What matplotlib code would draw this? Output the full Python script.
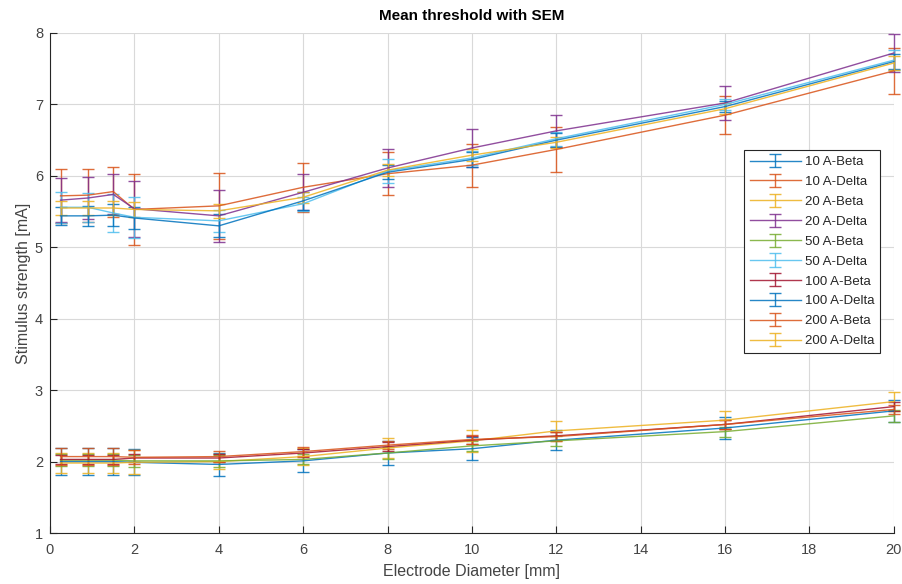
import numpy as np
import matplotlib
matplotlib.use("Agg")
import matplotlib.pyplot as plt

plt.rcParams['font.family'] = ['Liberation Sans', 'DejaVu Sans']

# Electrode diameters [mm]
diameter = [0.25, 0.9, 1.5, 2, 4, 6, 8, 10, 12, 16, 20]

# Mean thresholds [mA] and SEM
beta_10 = [2.00, 2.00, 2.00, 1.99, 1.96, 2.01, 2.12, 2.18, 2.30, 2.47, 2.71]
beta_10_sem = [0.19, 0.19, 0.19, 0.18, 0.16, 0.16, 0.17, 0.16, 0.14, 0.15, 0.15]
delta_10 = [5.72, 5.73, 5.78, 5.53, 5.58, 5.84, 6.03, 6.15, 6.37, 6.85, 7.47]
delta_10_sem = [0.38, 0.37, 0.35, 0.50, 0.46, 0.34, 0.30, 0.30, 0.31, 0.27, 0.32]
beta_20 = [1.98, 1.98, 1.98, 1.99, 2.00, 2.07, 2.19, 2.29, 2.43, 2.58, 2.84]
beta_20_sem = [0.14, 0.14, 0.14, 0.17, 0.10, 0.12, 0.14, 0.15, 0.14, 0.13, 0.13]
delta_20 = [5.66, 5.69, 5.74, 5.54, 5.44, 5.77, 6.11, 6.39, 6.63, 7.02, 7.72]
delta_20_sem = [0.31, 0.30, 0.28, 0.39, 0.36, 0.25, 0.26, 0.26, 0.22, 0.24, 0.26]
beta_50 = [2.02, 2.02, 2.02, 2.01, 2.01, 2.03, 2.12, 2.22, 2.29, 2.42, 2.64]
beta_50_sem = [0.08, 0.08, 0.08, 0.08, 0.08, 0.07, 0.08, 0.07, 0.07, 0.07, 0.08]
delta_50 = [5.56, 5.56, 5.48, 5.42, 5.37, 5.61, 6.07, 6.25, 6.52, 7.00, 7.62]
delta_50_sem = [0.22, 0.20, 0.27, 0.29, 0.15, 0.10, 0.17, 0.10, 0.10, 0.08, 0.14]
beta_100 = [2.03, 2.03, 2.03, 2.05, 2.05, 2.12, 2.21, 2.30, 2.36, 2.52, 2.77]
beta_100_sem = [0.06, 0.06, 0.06, 0.06, 0.06, 0.06, 0.06, 0.06, 0.06, 0.06, 0.06]
delta_100 = [5.44, 5.44, 5.45, 5.41, 5.30, 5.65, 6.05, 6.23, 6.50, 6.97, 7.60]
delta_100_sem = [0.13, 0.14, 0.15, 0.15, 0.16, 0.13, 0.10, 0.10, 0.10, 0.08, 0.10]
beta_200 = [2.07, 2.07, 2.07, 2.06, 2.07, 2.14, 2.23, 2.31, 2.35, 2.52, 2.73]
beta_200_sem = [0.12, 0.12, 0.12, 0.10, 0.08, 0.06, 0.06, 0.06, 0.06, 0.06, 0.06]
delta_200 = [5.55, 5.55, 5.55, 5.53, 5.51, 5.70, 6.08, 6.29, 6.47, 6.94, 7.58]
delta_200_sem = [0.10, 0.10, 0.10, 0.10, 0.10, 0.08, 0.08, 0.08, 0.08, 0.08, 0.10]

labels = ['10 A-Beta', '10 A-Delta', '20 A-Beta', '20 A-Delta', '50 A-Beta',
          '50 A-Delta', '100 A-Beta', '100 A-Delta', '200 A-Beta', '200 A-Delta']
means = [beta_10, delta_10, beta_20, delta_20, beta_50,
         delta_50, beta_100, delta_100, beta_200, delta_200]
sems = [beta_10_sem, delta_10_sem, beta_20_sem, delta_20_sem, beta_50_sem,
        delta_50_sem, beta_100_sem, delta_100_sem, beta_200_sem, delta_200_sem]

# MATLAB default color order
matlab_colors = ['#0072BD', '#D95319', '#EDB120', '#7E2F8E',
                 '#77AC30', '#4DBEEE', '#A2142F']

text_color = '#262626'
tick_color = '#444444'

fig = plt.figure(figsize=(9.02, 5.84), dpi=100)
ax = fig.add_axes([0.0554, 0.0873, 0.9356, 0.8562])

for i, (lab, m, s) in enumerate(zip(labels, means, sems)):
    ax.errorbar(diameter, m, yerr=s, label=lab,
                color=matlab_colors[i % len(matlab_colors)],
                linewidth=1.0, elinewidth=1.0, capsize=4, capthick=1.0,
                alpha=0.85, clip_on=False)

ax.set_xlim(0, 20)
ax.set_ylim(1, 8)
ax.set_xticks(np.arange(0, 21, 2))
ax.set_yticks(np.arange(1, 9, 1))

ax.grid(True, color='#d9d9d9', linewidth=0.8)
ax.set_axisbelow(True)
for side in ['top', 'right']:
    ax.spines[side].set_visible(False)
for side in ['left', 'bottom']:
    ax.spines[side].set_color(text_color)
    ax.spines[side].set_linewidth(0.8)

ax.tick_params(direction='in', length=5, width=0.8, colors=text_color,
               labelcolor=tick_color, labelsize=10.5)
ax.tick_params(axis='x', pad=7)
ax.tick_params(axis='y', pad=5)

ax.set_title('Mean threshold with SEM', fontsize=11, fontweight='bold',
             color='black', pad=9)
ax.set_xlabel('Electrode Diameter [mm]', fontsize=11.5, color=tick_color,
              labelpad=5)
ax.set_ylabel('Stimulus strength [mA]', fontsize=11.5, color=tick_color,
              labelpad=3)

leg = ax.legend(loc='upper left', bbox_to_anchor=(0.822, 0.766),
                fontsize=9.5, frameon=True, fancybox=False,
                handlelength=3.9, labelspacing=0.58, borderpad=0.45,
                handletextpad=0.3, borderaxespad=0)
leg.get_frame().set_edgecolor(text_color)
leg.get_frame().set_linewidth(0.8)
leg.get_frame().set_alpha(1.0)
for t in leg.get_texts():
    t.set_color(text_color)

fig.savefig('out.png', dpi=100, facecolor='white')
